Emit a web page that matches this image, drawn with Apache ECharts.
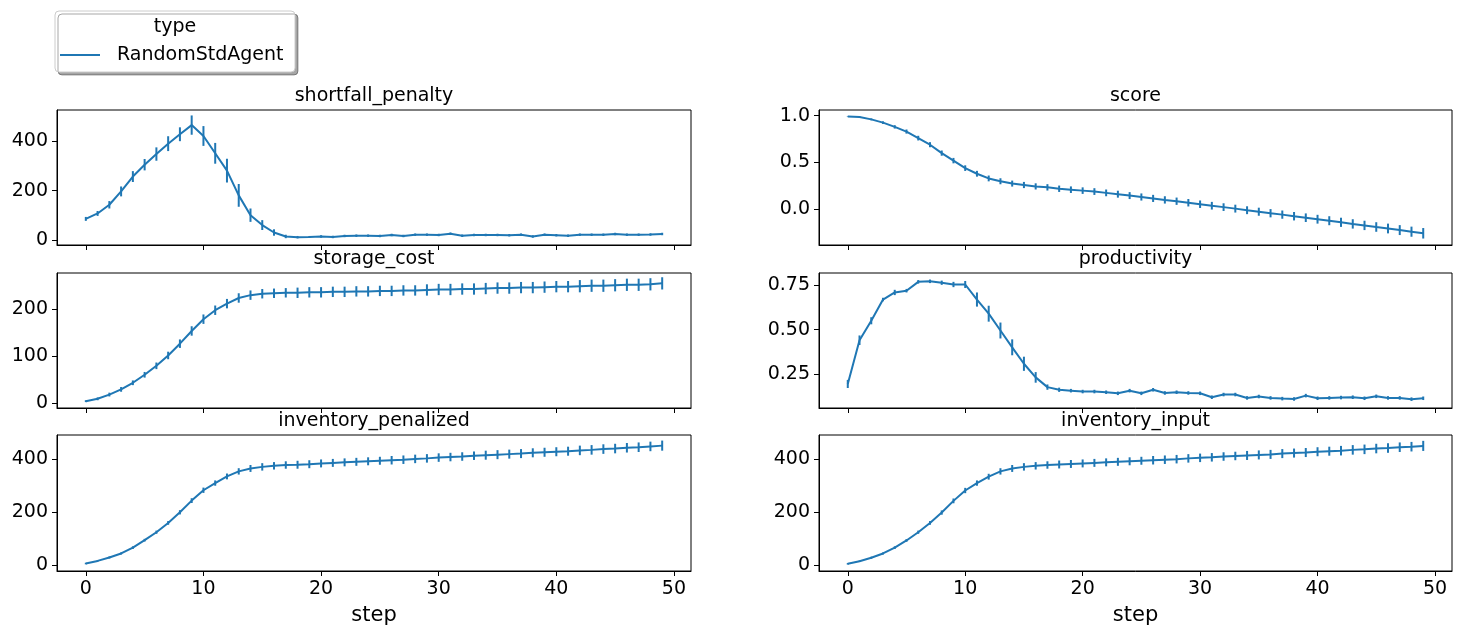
<!DOCTYPE html>
<html>
<head>
<meta charset="utf-8">
<script src="https://cdn.jsdelivr.net/npm/echarts@6/dist/echarts.min.js"></script>
<style>
  html, body { margin: 0; padding: 0; background: #fff; }
  #chart { width: 1461px; height: 635px; }
</style>
</head>
<body>
<div id="chart"></div>
<script>
// steps 0..49
const steps = [];
for (let i = 0; i < 50; i++) steps.push(i);

const xTicks = [0, 10, 20, 30, 40, 50];

const shortfallMean = [86,108,143,197,257,305,348,390,428,465,421,351,281,181,101,61,31,15,12,13,
  15,13,17,18,18,17,21,17,22,22,21,26,18,21,21,21,20,22,15,22,20,18,22,22,22,25,22,22,23,25];
const shortfallErr = [8,10,15,20,22,23,27,30,28,39,40,42,48,46,27,20,13,7,5,4,
  5,5,5,5,5,5,5,5,5,5,5,5,5,5,5,5,5,5,5,5,5,5,5,5,5,5,5,5,5,5];
const shortfallTicks = [0, 200, 400];

const scoreMean = [0.99,0.985,0.96,0.925,0.88,0.83,0.76,0.69,0.60,0.52,0.44,0.38,0.33,0.30,0.275,0.26,0.245,0.235,0.22,0.21,
  0.20,0.19,0.176,0.162,0.147,0.132,0.117,0.101,0.087,0.071,0.055,0.039,0.024,0.008,-0.009,-0.025,-0.041,-0.056,-0.073,-0.089,
  -0.105,-0.121,-0.138,-0.155,-0.171,-0.188,-0.204,-0.221,-0.238,-0.255];
const scoreErr = [0.003,0.006,0.01,0.014,0.018,0.022,0.025,0.027,0.028,0.029,0.03,0.031,0.031,0.032,0.032,0.033,0.033,0.034,0.034,0.035,
  0.035,0.036,0.036,0.037,0.037,0.038,0.038,0.039,0.039,0.04,0.04,0.041,0.041,0.042,0.042,0.043,0.044,0.044,0.045,0.046,
  0.047,0.048,0.049,0.05,0.05,0.051,0.052,0.053,0.054,0.056];
const scoreTicks = [0.0, 0.5, 1.0];

const storageMean = [5,10,19,30,44,61,80,102,127,154,179,198,212,224,230,233,234,235,235,236,
  236,237,237,238,238,239,239,240,240,241,242,242,243,243,244,245,245,246,246,247,248,248,249,250,250,251,252,252,253,255];
const storageErr = [2,3,4,5,5,6,7,8,9,10,10,10,10,10,10,10,10,10,11,11,
  11,11,11,11,11,11,11,11,11,12,12,12,12,12,12,12,12,12,12,12,12,12,13,13,13,13,13,13,13,13];
const storageTicks = [0, 100, 200];

const productivityMean = [0.193,0.44,0.55,0.67,0.71,0.72,0.77,0.773,0.765,0.755,0.755,0.67,0.59,0.495,0.40,0.307,0.23,0.175,0.16,0.155,
  0.15,0.15,0.146,0.14,0.155,0.14,0.16,0.142,0.146,0.142,0.14,0.118,0.133,0.133,0.114,0.122,0.114,0.11,0.108,0.127,
  0.112,0.114,0.116,0.118,0.112,0.123,0.114,0.114,0.107,0.112];
const productivityErr = [0.023,0.027,0.02,0.01,0.015,0.01,0.01,0.01,0.012,0.015,0.02,0.04,0.045,0.045,0.045,0.04,0.03,0.015,0.012,0.01,
  0.01,0.01,0.01,0.01,0.01,0.01,0.01,0.01,0.01,0.01,0.01,0.01,0.01,0.01,0.01,0.01,0.01,0.01,0.01,0.01,
  0.01,0.01,0.01,0.01,0.01,0.01,0.01,0.01,0.01,0.01];
const productivityTicks = [0.25, 0.50, 0.75];

const invPenMean = [7,17,30,45,67,95,125,160,200,244,283,310,335,354,365,371,375,378,379,381,
  384,386,388,390,392,394,396,398,401,403,406,408,410,413,415,417,419,421,424,426,428,430,433,435,438,440,443,445,448,451];
const invPenErr = [3,3,4,4,5,5,6,7,8,9,10,10,11,12,13,14,14,14,15,15,
  15,15,15,15,15,15,16,16,16,16,16,16,16,16,17,17,17,17,17,17,17,17,18,18,18,18,18,18,18,19];
const invInMean = [6,16,29,45,67,94,125,160,199,243,282,310,334,354,365,371,375,378,380,382,
  384,386,388,390,392,394,396,398,400,403,405,407,410,412,414,416,418,421,423,425,428,430,432,435,437,440,442,445,447,450];
const invInErr = [3,3,4,4,5,5,6,7,8,9,10,10,11,12,13,14,14,14,15,15,
  15,15,15,15,15,15,16,16,16,16,16,16,16,16,17,17,17,17,17,17,17,17,18,18,18,18,18,18,18,19];
const invTicks = [0, 200, 400];

const titles = ['shortfall_penalty', 'score', 'storage_cost', 'productivity', 'inventory_penalized', 'inventory_input'];

const panels = [
  { mean: shortfallMean, err: shortfallErr, ticks: shortfallTicks, min: -19.5, max: 526, fmt: v => String(v) },
  { mean: scoreMean, err: scoreErr, ticks: scoreTicks, min: -0.38, max: 1.06, fmt: v => v.toFixed(1) },
  { mean: storageMean, err: storageErr, ticks: storageTicks, min: -9.5, max: 277, fmt: v => String(v) },
  { mean: productivityMean, err: productivityErr, ticks: productivityTicks, min: 0.057, max: 0.82, fmt: v => v.toFixed(2) },
  { mean: invPenMean, err: invPenErr, ticks: invTicks, min: -21, max: 491, fmt: v => String(v) },
  { mean: invInMean, err: invInErr, ticks: invTicks, min: -21, max: 491, fmt: v => String(v) }
];

const FONT = 'DejaVu Sans';
const BLUE = '#1f77b4';
const colLeft = [57, 819];
const colWidth = [634, 633];
const rowTop = [110, 273, 435];
const rowHeight = [135, 135, 136];

const chart = echarts.init(document.getElementById('chart'));

const grids = [], xAxes = [], yAxes = [], series = [], graphics = [];

panels.forEach((p, i) => {
  const col = i % 2, row = Math.floor(i / 2);
  const bottomRow = row === 2;
  grids.push({
    left: colLeft[col], top: rowTop[row], width: colWidth[col], height: rowHeight[row],
    show: true, borderColor: '#000', borderWidth: 1, backgroundColor: 'transparent'
  });
  xAxes.push({
    gridIndex: i, type: 'value', min: -2.45, max: 51.45,
    axisLine: { show: true, onZero: false, lineStyle: { color: '#000', width: 1 } },
    axisTick: { show: true, length: 5, customValues: xTicks, lineStyle: { color: '#000' } },
    axisLabel: { show: bottomRow, customValues: xTicks, margin: 9, color: '#000', fontSize: 19, fontFamily: FONT },
    splitLine: { show: false },
    name: bottomRow ? 'step' : '', nameLocation: 'middle', nameGap: 34,
    nameTextStyle: { color: '#000', fontSize: 21, fontFamily: FONT }
  });
  yAxes.push({
    gridIndex: i, type: 'value', min: p.min, max: p.max,
    axisLine: { show: true, onZero: false, lineStyle: { color: '#000', width: 1 } },
    axisTick: { show: true, length: 5, customValues: p.ticks, lineStyle: { color: '#000' } },
    axisLabel: { customValues: p.ticks, margin: 9, color: '#000', fontSize: 19, fontFamily: FONT, formatter: p.fmt },
    splitLine: { show: false }
  });
  series.push({
    type: 'line', xAxisIndex: i, yAxisIndex: i, showSymbol: false, symbol: 'none',
    data: steps.map((s, k) => [s, p.mean[k]]),
    lineStyle: { color: BLUE, width: 2 }, itemStyle: { color: BLUE }, animation: false
  });
  series.push({
    type: 'custom', xAxisIndex: i, yAxisIndex: i,
    data: steps.map((s, k) => [s, p.mean[k] - p.err[k], p.mean[k] + p.err[k]]),
    encode: { x: 0, y: [1, 2] },
    renderItem: function (params, api) {
      const a = api.coord([api.value(0), api.value(1)]);
      const b = api.coord([api.value(0), api.value(2)]);
      return { type: 'line', shape: { x1: a[0], y1: a[1], x2: b[0], y2: b[1] },
        style: { stroke: BLUE, lineWidth: 2 } };
    },
    animation: false, silent: true
  });
  graphics.push({
    type: 'text', x: colLeft[col] + colWidth[col] / 2, y: rowTop[row] - 14,
    style: { text: titles[i], fill: '#000', font: '19px "' + FONT + '"', textAlign: 'center', textVerticalAlign: 'middle' }
  });
});

// legend box
graphics.push({
  type: 'rect', shape: { x: 55, y: 11, width: 240, height: 61, r: 4 },
  style: { fill: '#fff', stroke: '#cccccc', lineWidth: 1, shadowBlur: 0, shadowOffsetX: 3, shadowOffsetY: 3, shadowColor: 'rgba(0,0,0,0.35)' }
});
graphics.push({
  type: 'text', x: 175, y: 27,
  style: { text: 'type', fill: '#000', font: '19px "' + FONT + '"', textAlign: 'center', textVerticalAlign: 'middle' }
});
graphics.push({
  type: 'line', shape: { x1: 60, y1: 55, x2: 100, y2: 55 },
  style: { stroke: BLUE, lineWidth: 2 }
});
graphics.push({
  type: 'text', x: 117, y: 55,
  style: { text: 'RandomStdAgent', fill: '#000', font: '19px "' + FONT + '"', textAlign: 'left', textVerticalAlign: 'middle' }
});

chart.setOption({
  animation: false,
  backgroundColor: '#fff',
  textStyle: { fontFamily: FONT },
  grid: grids,
  xAxis: xAxes,
  yAxis: yAxes,
  series: series,
  graphic: graphics
});
</script>
</body>
</html>
